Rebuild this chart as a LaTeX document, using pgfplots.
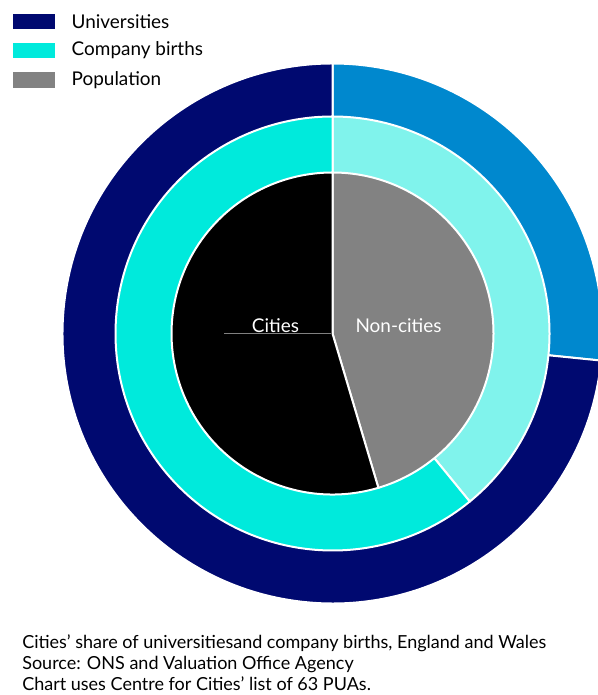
\documentclass[border=0pt]{standalone}
\usepackage{pgfplots}
\pgfplotsset{compat=1.18}
\usepackage{pgfplotstable}
\usepackage{fontspec}
\setmainfont{Lato}
\definecolor{uniC}{HTML}{000970}
\definecolor{uniN}{HTML}{0088CE}
\definecolor{cbC}{HTML}{00EADC}
\definecolor{cbN}{HTML}{80F3EC}
\definecolor{popC}{HTML}{000000}
\definecolor{popN}{HTML}{828282}
% share (%) of each measure: cities vs non-cities
\pgfplotstableread{
ring          cities noncities radius
Universities  73.4   26.6      270
Companybirths 60.9   39.1      217
Population    54.6   45.4      161
}\shares
\begin{document}
\begin{tikzpicture}
\useasboundingbox (0,0) rectangle (448.5pt,521.25pt);
\pgfplotstablegetelem{0}{noncities}\of\shares \pgfmathsetmacro\aU{90-3.6*\pgfplotsretval}
\pgfplotstablegetelem{1}{noncities}\of\shares \pgfmathsetmacro\aC{90-3.6*\pgfplotsretval}
\pgfplotstablegetelem{2}{noncities}\of\shares \pgfmathsetmacro\aP{90-3.6*\pgfplotsretval}
\pgfplotstablegetelem{0}{radius}\of\shares \pgfmathsetmacro\rU{0.75*\pgfplotsretval}
\pgfplotstablegetelem{1}{radius}\of\shares \pgfmathsetmacro\rC{0.75*\pgfplotsretval}
\pgfplotstablegetelem{2}{radius}\of\shares \pgfmathsetmacro\rP{0.75*\pgfplotsretval}
\begin{axis}[x=0.75pt,y=0.75pt,xmin=0,xmax=598,ymin=0,ymax=695,
  hide axis,scale only axis,clip=false]
% outer ring: universities
\filldraw[uniN,draw=white,line width=1.5pt] (axis cs:332.5,361.5) -- ++(90:\rU pt) arc[start angle=90,end angle=\aU,radius=\rU pt] -- cycle;
\filldraw[uniC,draw=white,line width=1.5pt] (axis cs:332.5,361.5) -- ++(\aU:\rU pt) arc[start angle=\aU,end angle=-270,radius=\rU pt] -- cycle;
% middle ring: company births
\filldraw[cbN,draw=white,line width=1.5pt] (axis cs:332.5,361.5) -- ++(90:\rC pt) arc[start angle=90,end angle=\aC,radius=\rC pt] -- cycle;
\filldraw[cbC,draw=white,line width=1.5pt] (axis cs:332.5,361.5) -- ++(\aC:\rC pt) arc[start angle=\aC,end angle=-270,radius=\rC pt] -- cycle;
% inner pie: population
\filldraw[popN,draw=white,line width=1.5pt] (axis cs:332.5,361.5) -- ++(90:\rP pt) arc[start angle=90,end angle=\aP,radius=\rP pt] -- cycle;
\filldraw[popC,draw=white,line width=1.5pt] (axis cs:332.5,361.5) -- ++(\aP:\rP pt) arc[start angle=\aP,end angle=-270,radius=\rP pt] -- cycle;
\draw[gray,line width=0.4pt] (axis cs:224,361.5) -- (axis cs:331,361.5);
\node[white,font=\fontsize{14.2}{16}\selectfont,anchor=base] at (axis cs:275.5,362.5) {Cities};
\node[white,font=\fontsize{14.2}{16}\selectfont,anchor=base] at (axis cs:398.5,362.5) {Non-cities};
% legend
\fill[uniC] (axis cs:13,681) rectangle (axis cs:55,666);
\fill[cbC] (axis cs:13,652) rectangle (axis cs:55,637);
\fill[popN] (axis cs:13,623) rectangle (axis cs:55,607);
\node[anchor=west,font=\fontsize{14.2}{16}\selectfont] at (axis cs:67,673.5) {Universities};
\node[anchor=west,font=\fontsize{14.2}{16}\selectfont] at (axis cs:67,644.5) {Company births};
\node[anchor=west,font=\fontsize{14.2}{16}\selectfont] at (axis cs:67,615) {Population};
% footer
\node[anchor=base west,inner sep=0pt,font=\fontsize{13.5}{15}\selectfont] at (axis cs:22,46) {Cities’ share of universitiesand company births, England and Wales};
\node[anchor=base west,inner sep=0pt,font=\fontsize{13.5}{15}\selectfont] at (axis cs:22,25) {Source: ONS and Valuation Office Agency};
\node[anchor=base west,inner sep=0pt,font=\fontsize{13.5}{15}\selectfont] at (axis cs:22,4) {Chart uses Centre for Cities’ list of 63 PUAs.};
\end{axis}
\end{tikzpicture}
\end{document}
